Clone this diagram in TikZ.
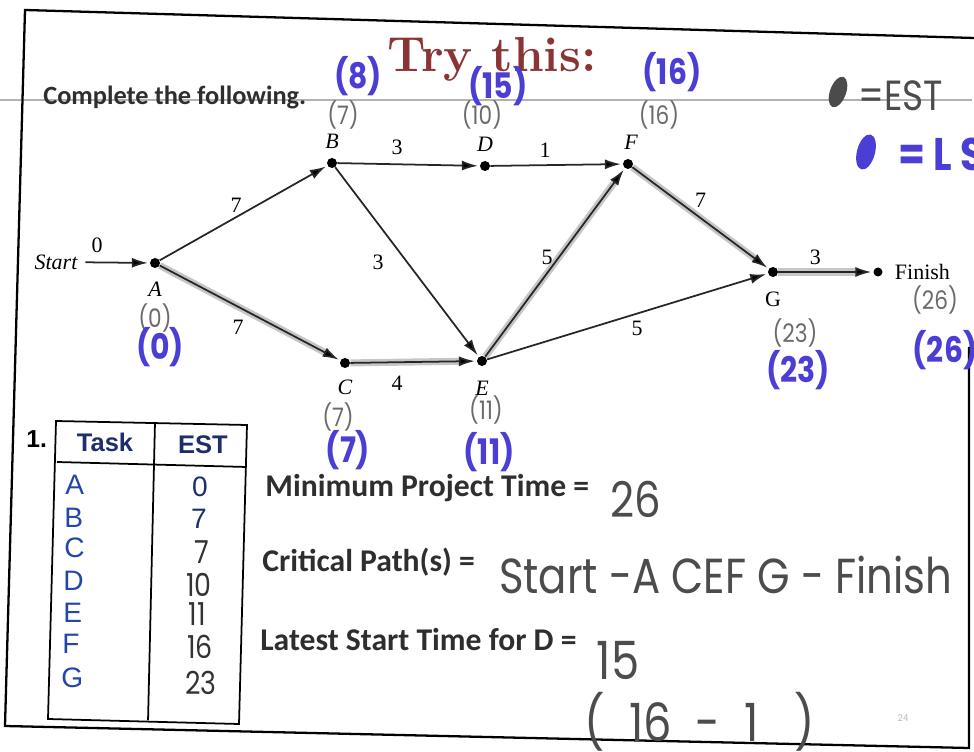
\documentclass[tikz,border=0pt]{standalone}
\usepackage{fontspec}
\usepackage{tikz}
\usetikzlibrary{arrows.meta, positioning}

\newfontfamily\sheetfont{Carlito}
\newfontfamily\tablefont{Liberation Sans}
\newfontfamily\graphfont{Liberation Serif}
\newfontfamily\pencilfont{Poppins}[FakeStretch = 0.85]

\definecolor{titlered}{HTML}{8B3434}
\definecolor{inkblue}{HTML}{4A3ED4}
\definecolor{pencil}{HTML}{6B6B6B}
\definecolor{navy}{HTML}{1C2F6B}
\definecolor{letterblue}{HTML}{2446A8}

\begin{document}
\begin{tikzpicture}[
        x = 0.2mm, y = -0.2mm, shorten >= 1pt,
        >= {Latex[length = 3.2mm, width = 2mm]},
        event/.style = {circle, fill = black, inner sep = 0pt, minimum size = 2mm},
        act/.style = {->, line width = 1pt, draw = black!85},
        crit/.style = {preaction = {draw = gray!45, line width = 4pt, -, shorten >= 3mm}},
        wt/.style = {font = \graphfont\fontsize{12.5}{12.5}\selectfont, inner sep = 1pt},
        tag/.style = {font = \graphfont\itshape\fontsize{12.5}{12.5}\selectfont, inner sep = 1pt},
        est/.style = {text = pencil, font = \pencilfont\fontsize{14.5}{14.5}\selectfont},
        lst/.style = {text = inkblue, font = \pencilfont\bfseries\fontsize{20}{20}\selectfont},
        sheet/.style = {font = \sheetfont\bfseries\fontsize{18}{18}\selectfont, text = black!82,
                        anchor = base west, inner sep = 0pt},
        answer/.style = {text = black!70, font = \pencilfont\fontsize{26}{26}\selectfont},
        rowtxt/.style = {font = \tablefont\fontsize{16}{16}\selectfont, anchor = base, inner sep = 0pt},
        tabhand/.style = {text = black!80, font = \pencilfont\fontsize{18}{18}\selectfont,
                          anchor = base, inner sep = 0pt}
    ]
    \useasboundingbox (0,0) rectangle (974,752);

    % scanned sheet
    \draw[gray!60, line width = 0.6pt] (0,100) -- (974,100);
    \draw[line width = 1.3pt] (974,38) -- (25,10) -- (5,726) -- (969,748) -- (969,345);

    \node[text = titlered, font = \bfseries\fontsize{28}{28}\selectfont, anchor = base] (title)
        at (492,72) {Try this:};
    \node[sheet, font = \sheetfont\bfseries\fontsize{15}{15}\selectfont] (intro) at (43,105)
        {Complete the following.};

    % network
    \node[event] (A) at (155,263) {};
    \node[event] (B) at (332,163) {};
    \node[event] (D) at (485,166) {};
    \node[event] (F) at (628,164) {};
    \node[event] (C) at (345,363) {};
    \node[event] (E) at (482,361) {};
    \node[event] (G) at (773,272) {};
    \node[event, minimum size = 1.8mm] (fin) at (878,272) {};
    \node[tag] (start) at (56,262) {Start};

    \node[tag] (labA) [below = 2.4mm of A] {A};
    \node[tag] (labB) [above = 1.4mm of B] {B};
    \node[tag] (labD) [above = 1.4mm of D] {D};
    \node[tag] (labF) [above = 1.4mm of F, xshift = 0.6mm] {F};
    \node[tag] (labC) [below = 1.8mm of C] {C};
    \node[tag] (labE) [below = 2.6mm of E] {E};
    \node[wt] (labG) [below = 2.4mm of G] {G};
    \node[wt] (finish) [right = 2mm of fin] {Finish};

    \path[act]
        (start) edge [shorten <= 1.2mm] node [wt, pos = .25, yshift = 3.4mm] {0} (A)
        (A) edge node [wt, xshift = -1.5mm, yshift = 1.6mm] {7} (B)
        (A) edge [crit] node [wt, xshift = -2.4mm, yshift = -2.8mm] {7} (C)
        (B) edge node [wt, xshift = -2.3mm, yshift = 3.5mm] {3} (D)
        (B) edge node [wt, xshift = -5.8mm] {3} (E)
        (D) edge node [wt, xshift = -2.3mm, yshift = 3mm] {1} (F)
        (C) edge [crit] node [wt, xshift = -3.3mm, yshift = -4.2mm] {4} (E)
        (E) edge [crit] node [wt, xshift = -1.6mm, yshift = 1.1mm] {5} (F)
        (E) edge node [wt, xshift = 1.9mm, yshift = -2.3mm] {5} (G)
        (F) edge [crit] node [wt, yshift = 3.6mm] {7} (G)
        (G) edge [crit] node [wt, xshift = -2.1mm, yshift = 3mm] {3} (fin);

    % pencil: earliest start times
    \node[est] (estA) at (155,318) {(0)};
    \node[est] (estB) at (343,115) {(7)};
    \node[est] (estC) at (338,417) {(7)};
    \node[est] (estD) at (482,115) {(10)};
    \node[est] (estE) at (486,410) {(11)};
    \node[est] (estF) at (659,115) {(16)};
    \node[est] (estG) at (795,333) {(23)};
    \node[est] (estFin) at (935,300) {(26)};

    % ink: latest start times
    \node[lst] (lsA) at (160,347) {(0)};
    \node[lst] (lsB) at (358,76) {(8)};
    \node[lst] (lsC) at (348,450) {(7)};
    \node[lst] (lsD) at (498,86) {(15)};
    \node[lst] (lsE) at (489,452) {(11)};
    \node[lst] (lsF) at (672,72) {(16)};
    \node[lst] (lsG) at (798,370) {(23)};
    \node[lst] (lsFin) at (945,350) {(26)};

    % key
    \fill[pencil!70!black, rotate around = {-20:(838,92)}] (838,92) ellipse [x radius = 1.6mm, y radius = 3.2mm];
    \node[answer, font = \pencilfont\fontsize{24}{24}\selectfont, anchor = west] (keyEST) at (852,96) {=EST};
    \fill[inkblue, rotate around = {-15:(866,152)}] (866,152) ellipse [x radius = 1.8mm, y radius = 3.6mm];
    \node[lst, font = \pencilfont\bfseries\fontsize{26}{26}\selectfont, anchor = west] (keyLS) at (892,154) {= L S};

    % table
    \node[font = \tablefont\bfseries\fontsize{14}{14}\selectfont, anchor = base west, inner sep = 0pt]
        (qnum) at (26,448) {1.};
    \draw[line width = 1pt] (56,421) -- (247,425) -- (239,724) -- (48,719) -- cycle;
    \draw[line width = 1pt] (155,422) -- (148,722);
    \draw[line width = 1pt] (57,462) -- (247,467);
    \node[rowtxt, text = navy, font = \tablefont\bfseries\fontsize{14.5}{14.5}\selectfont] (hTask) at (105,452) {Task};
    \node[rowtxt, text = navy, font = \tablefont\bfseries\fontsize{14.5}{14.5}\selectfont] (hEST) at (203,454) {EST};
    \node[rowtxt, text = letterblue, anchor = base west] (rA) at (65,495) {A};
    \node[rowtxt, text = letterblue, anchor = base west] (rB) at (64,527) {B};
    \node[rowtxt, text = letterblue, anchor = base west] (rC) at (64,558) {C};
    \node[rowtxt, text = letterblue, anchor = base west] (rD) at (63,590) {D};
    \node[rowtxt, text = letterblue, anchor = base west] (rE) at (63,622) {E};
    \node[rowtxt, text = letterblue, anchor = base west] (rF) at (62,653) {F};
    \node[rowtxt, text = letterblue, anchor = base west] (rG) at (61,687) {G};
    \node[rowtxt, text = navy] (vA) at (200,497) {0};
    \node[rowtxt, text = navy] (vB) at (199,528) {7};
    \node[tabhand] (vC) at (202,563) {7};
    \node[tabhand] (vD) at (199,596) {10};
    \node[tabhand] (vE) at (197,625) {11};
    \node[tabhand] (vF) at (200,658) {16};
    \node[tabhand] (vG) at (201,694) {23};

    % questions
    \node[sheet] (qTime) at (265,497) {Minimum Project Time =};
    \node[sheet] (qPath) at (262,572) {Critical Path(s) =};
    \node[sheet] (qLate) at (260,650) {Latest Start Time for D =};
    \node[answer, font = \pencilfont\fontsize{28}{28}\selectfont] (aTime) at (636,499) {26};
    \node[answer, font = \pencilfont\fontsize{28}{28}\selectfont, anchor = base west] (aPath) at (493,593)
        {Start -A CEF G - Finish};
    \node[answer, font = \pencilfont\fontsize{30}{30}\selectfont] (aLate) at (618,660) {15};
    \node[answer, font = \pencilfont\fontsize{30}{30}\selectfont] (aCalc) at (700,722) {(\ \ 16 \ - \ 1 \ \ )};
    \node[text = gray!55, font = \sheetfont\fontsize{6}{6}\selectfont] (page) at (903,718) {24};
\end{tikzpicture}
\end{document}
